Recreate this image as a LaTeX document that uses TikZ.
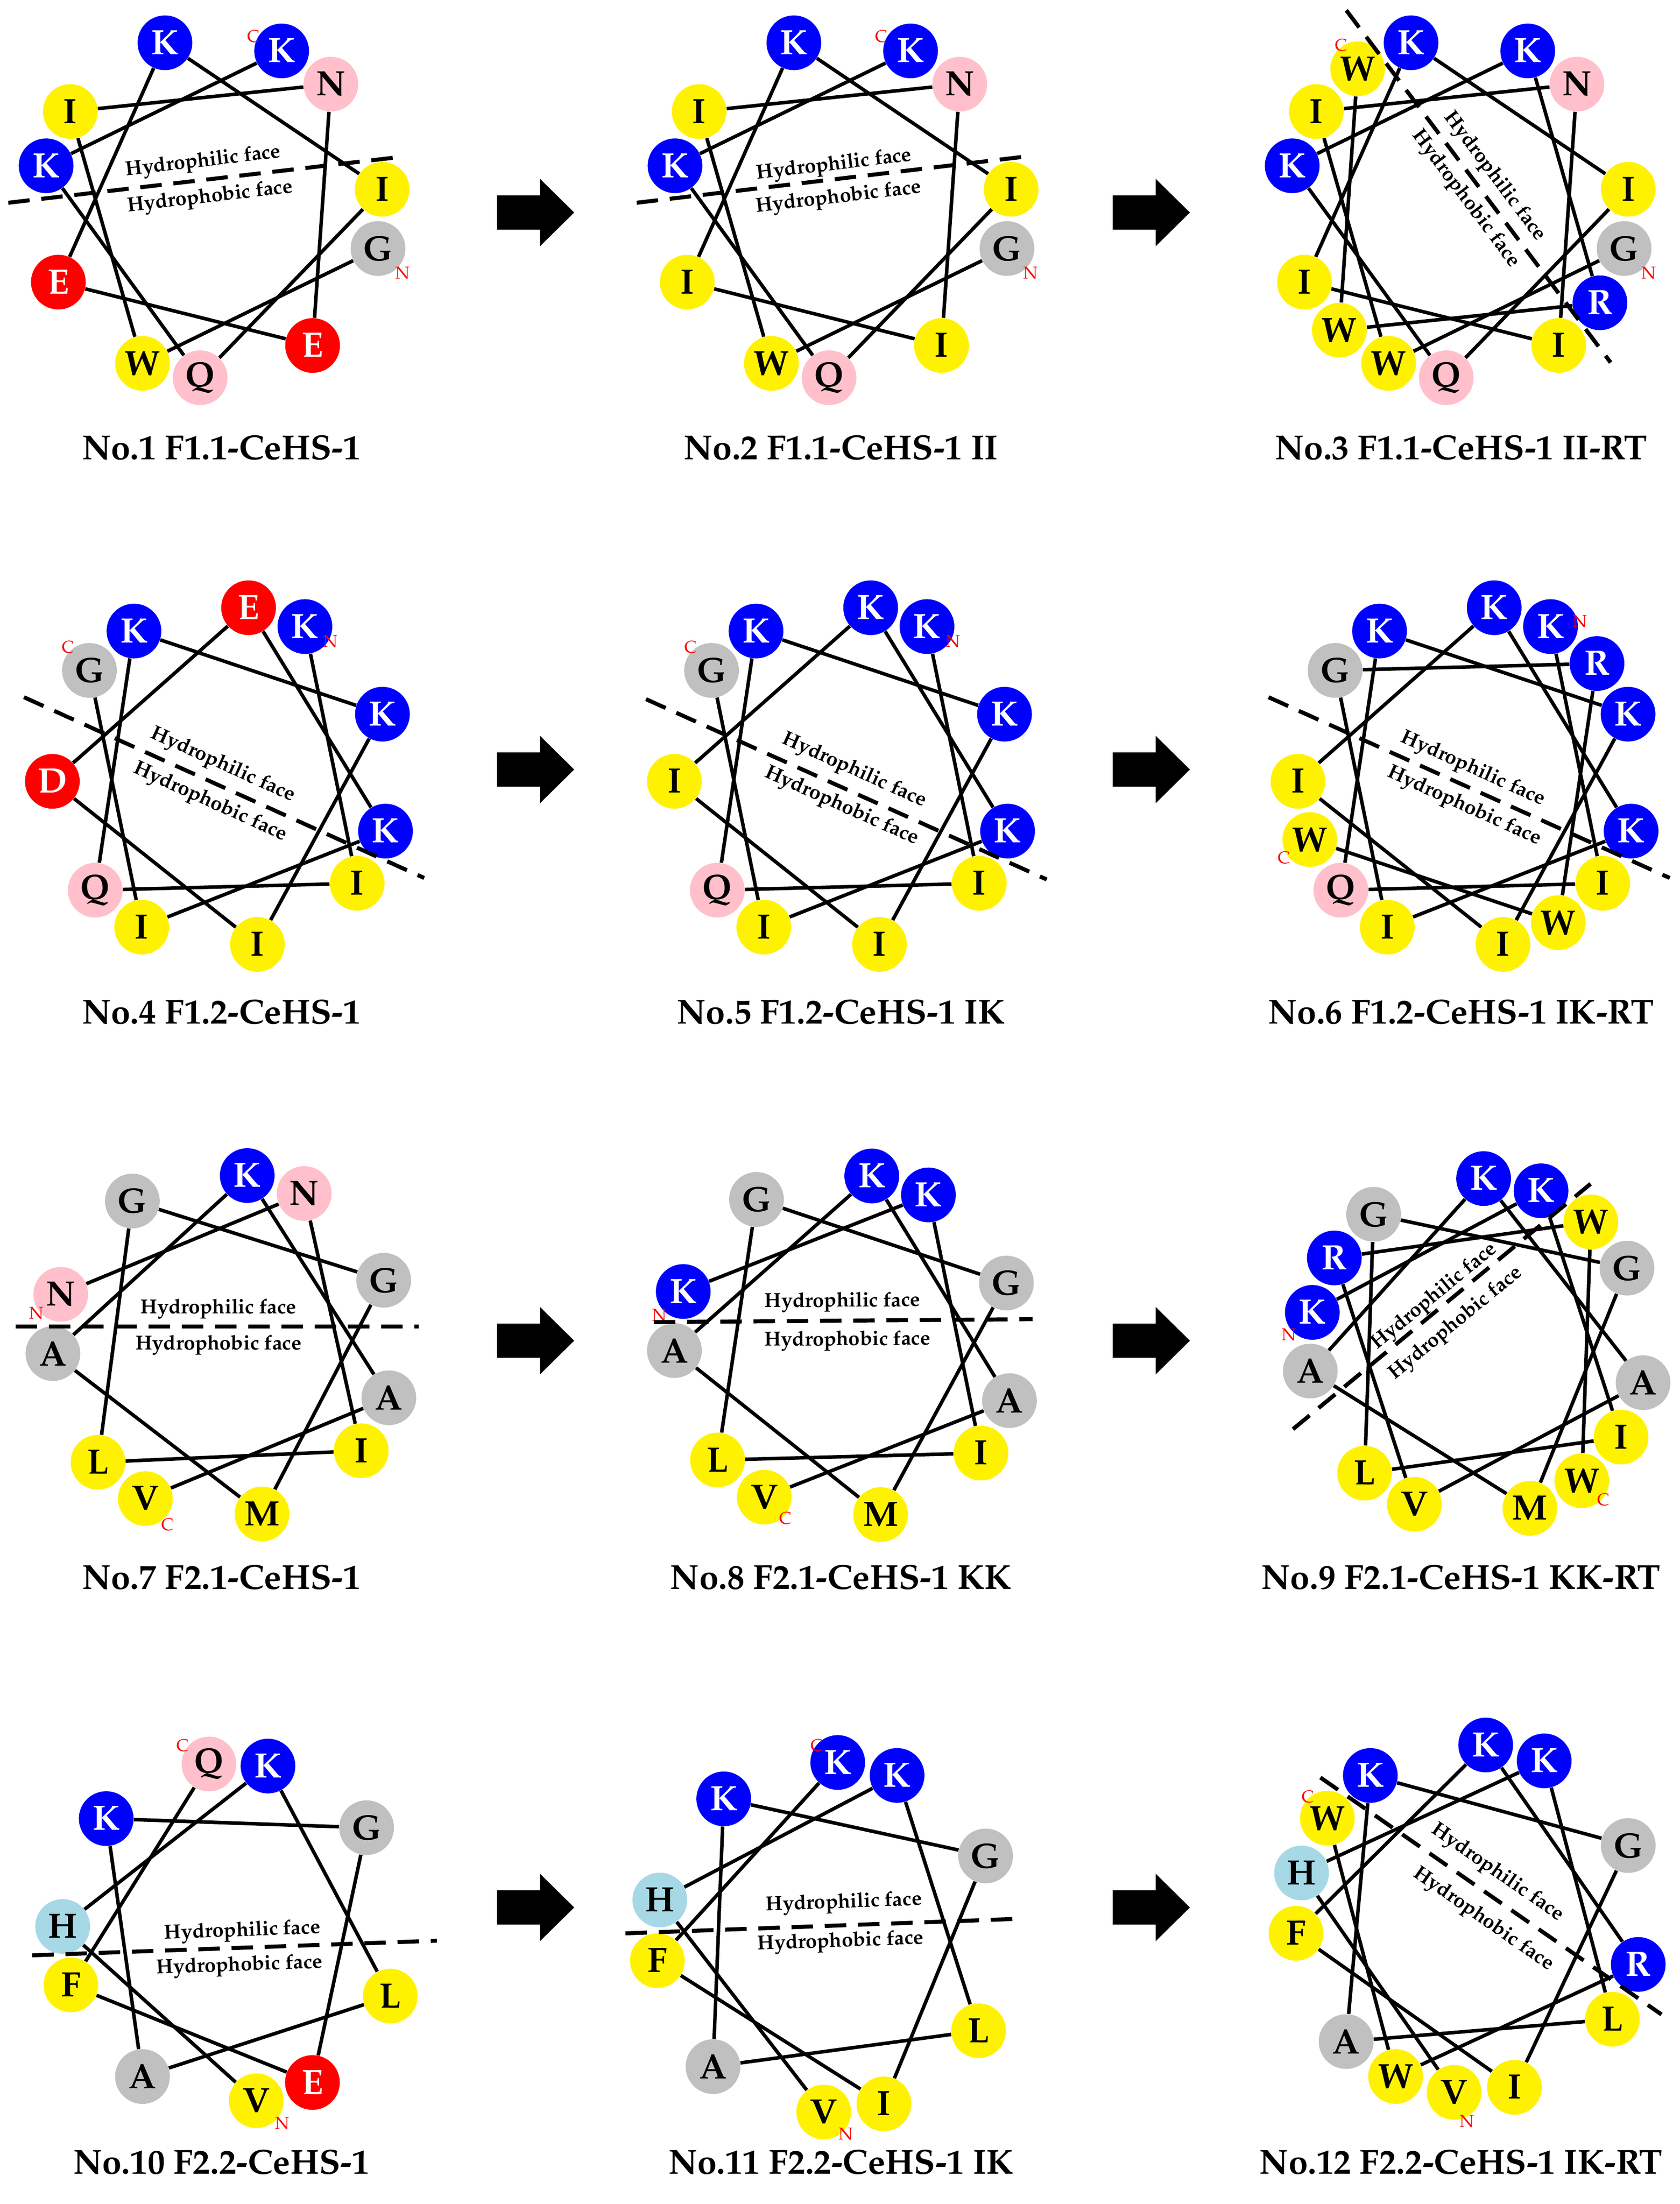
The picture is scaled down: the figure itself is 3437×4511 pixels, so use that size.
\documentclass[tikz,border=0pt]{standalone}
\usepackage[T1]{fontenc}
\renewcommand{\rmdefault}{ppl}
\usetikzlibrary{calc}
\pgfdeclarelayer{bg}
\pgfsetlayers{bg,main}
\definecolor{pinkres}{RGB}{255,192,203}
\definecolor{grayres}{RGB}{192,192,192}
\definecolor{hisres}{RGB}{166,216,230}
\newcommand{\drawwheel}[6]{%
  \foreach \aa/\st [count=\k from 0] in {#6} {
    \node[res,\st] (#1-\k) at ({#2+#4*cos(#5-100*\k)},{#3-#4*sin(#5-100*\k)}) {\aa};
  }%
}
\newcommand{\wheelconn}[2]{%
  \foreach \i in {0,...,#2} {
    \pgfmathtruncatemacro{\j}{\i+1}
    \draw[conn] (#1-\i) -- (#1-\j);
  }%
}
\newcommand{\blockarrow}[2]{%
  \fill[black] (#1,#2-35) -- (#1+88,#2-35) -- (#1+88,#2-69) -- (#1+158,#2) -- (#1+88,#2+69) -- (#1+88,#2+35) -- (#1,#2+35) -- cycle;
}
\begin{document}
\begin{tikzpicture}[x=0.1mm,y=-0.1mm,
  res/.style={circle, minimum size=11.2mm, inner sep=0pt, font=\fontsize{20.5}{24}\selectfont\bfseries},
  rB/.style={fill=blue, text=white},
  rY/.style={fill=yellow, text=black},
  rR/.style={fill=red, text=white},
  rP/.style={fill=pinkres, text=black},
  rG/.style={fill=grayres, text=black},
  rH/.style={fill=hisres, text=black},
  conn/.style={line width=0.72mm, black},
  dashln/.style={line width=0.82mm, black, dash pattern=on 4.4mm off 2.4mm},
  face/.style={font=\fontsize{11.8}{14}\selectfont\bfseries, inner sep=0pt},
  term/.style={text=red, font=\fontsize{10}{12}\selectfont, inner sep=0pt},
  capt/.style={font=\fontsize{20.2}{24}\selectfont\bfseries, inner sep=0pt}]
\useasboundingbox (0,0) rectangle (3437,4511);

% ---------- Row 1 ----------
\drawwheel{w1}{434}{424}{350}{-14}{G/rG,W/rY,I/rY,N/rP,E/rR,E/rR,K/rB,I/rY,Q/rP,K/rB,K/rB}
\drawwheel{w2}{1721}{424}{350}{-14}{G/rG,W/rY,I/rY,N/rP,I/rY,I/rY,K/rB,I/rY,Q/rP,K/rB,K/rB}
\drawwheel{w3}{2984}{424}{350}{-14}{G/rG,W/rY,I/rY,N/rP,I/rY,I/rY,K/rB,I/rY,Q/rP,K/rB,K/rB,R/rB,W/rY,W/rY}
% ---------- Row 2 ----------
\drawwheel{w4}{457}{1590}{350}{61.5}{K/rB,I/rY,Q/rP,K/rB,K/rB,I/rY,D/rR,E/rR,K/rB,I/rY,G/rG}
\drawwheel{w5}{1730}{1590}{350}{61.5}{K/rB,I/rY,Q/rP,K/rB,K/rB,I/rY,I/rY,K/rB,K/rB,I/rY,G/rG}
\drawwheel{w6}{3006}{1590}{350}{61.5}{K/rB,I/rY,Q/rP,K/rB,K/rB,I/rY,I/rY,K/rB,K/rB,I/rY,G/rG,R/rB,W/rY,W/rY}
% ---------- Row 3 ----------
\drawwheel{w7}{460}{2755}{352}{162.5}{N/rP,N/rP,I/rY,L/rY,G/rG,G/rG,M/rY,A/rG,K/rB,A/rG,V/rY}
\drawwheel{w8}{1732}{2755}{352}{161.5}{K/rB,K/rB,I/rY,L/rY,G/rG,G/rG,M/rY,A/rG,K/rB,A/rG,V/rY}
\drawwheel{w9}{3024}{2758}{346}{168}{K/rB,K/rB,I/rY,L/rY,G/rG,G/rG,M/rY,A/rG,K/rB,A/rG,V/rY,R/rB,W/rY,W/rY}
% ---------- Row 4 ----------
\drawwheel{w10}{476}{3955}{348}{-82}{V/rY,H/rH,K/rB,L/rY,A/rG,K/rB,G/rG,E/rR,F/rY,Q/rP}
\drawwheel{w11}{1700}{3965}{358}{-92.3}{V/rY,H/rH,K/rB,L/rY,A/rG,K/rB,G/rG,I/rY,F/rY,K/rB}
\drawwheel{w12}{3008}{3927}{357}{-95.2}{V/rY,H/rH,K/rB,L/rY,A/rG,K/rB,G/rG,I/rY,F/rY,K/rB,R/rB,W/rY,W/rY}

% ---------- background and connectors ----------
\begin{pgfonlayer}{bg}
\fill[white] (0,0) rectangle (3437,4511);
\wheelconn{w1}{9}
\wheelconn{w2}{9}
\wheelconn{w3}{12}
\wheelconn{w4}{9}
\wheelconn{w5}{9}
\wheelconn{w6}{12}
\wheelconn{w7}{9}
\wheelconn{w8}{9}
\wheelconn{w9}{12}
\wheelconn{w10}{8}
\wheelconn{w11}{8}
\wheelconn{w12}{11}
\end{pgfonlayer}

% ---------- N / C terminal labels ----------
\node[term] (w1-n) at ($(w1-0)+(50,50)$) {N};
\node[term] (w1-c) at ($(w1-10)+(-58,-30)$) {C};
\node[term] (w2-n) at ($(w2-0)+(48,50)$) {N};
\node[term] (w2-c) at ($(w2-10)+(-60,-30)$) {C};
\node[term] (w3-n) at ($(w3-0)+(50,50)$) {N};
\node[term] (w3-c) at ($(w3-13)+(-34,-48)$) {C};
\node[term] (w4-n) at ($(w4-0)+(52,30)$) {N};
\node[term] (w4-c) at ($(w4-10)+(-44,-47)$) {C};
\node[term] (w5-n) at ($(w5-0)+(53,30)$) {N};
\node[term] (w5-c) at ($(w5-10)+(-43,-47)$) {C};
\node[term] (w6-n) at ($(w6-0)+(60,-11)$) {N};
\node[term] (w6-c) at ($(w6-13)+(-53,37)$) {C};
\node[term] (w7-n) at ($(w7-0)+(-50,39)$) {N};
\node[term] (w7-c) at ($(w7-10)+(45,53)$) {C};
\node[term] (w8-n) at ($(w8-0)+(-49,48)$) {N};
\node[term] (w8-c) at ($(w8-10)+(43,43)$) {C};
\node[term] (w9-n) at ($(w9-0)+(-48,46)$) {N};
\node[term] (w9-c) at ($(w9-13)+(44,39)$) {C};
\node[term] (w10-n) at ($(w10-0)+(53,46)$) {N};
\node[term] (w10-c) at ($(w10-9)+(-54,-38)$) {C};
\node[term] (w11-n) at ($(w11-0)+(45,45)$) {N};
\node[term] (w11-c) at ($(w11-9)+(-43,-35)$) {C};
\node[term] (w12-n) at ($(w12-0)+(26,59)$) {N};
\node[term] (w12-c) at ($(w12-12)+(-40,-44)$) {C};

% ---------- dividing lines and face labels ----------
\coordinate (d1a) at (17,415);    \coordinate (d1b) at (804,323);
\coordinate (d2a) at (1303,415);  \coordinate (d2b) at (2094,321);
\coordinate (d3a) at (2755,21);   \coordinate (d3b) at (3296,742);
\coordinate (d4a) at (49,1427);   \coordinate (d4b) at (868,1797);
\coordinate (d5a) at (1322,1431); \coordinate (d5b) at (2142,1800);
\coordinate (d6a) at (2596,1427); \coordinate (d6b) at (3417,1797);
\coordinate (d7a) at (32,2715);   \coordinate (d7b) at (857,2715);
\coordinate (d8a) at (1338,2706); \coordinate (d8b) at (2113,2700);
\coordinate (d9a) at (2646,2925); \coordinate (d9b) at (3255,2423);
\coordinate (d10a) at (66,4002);  \coordinate (d10b) at (894,3972);
\coordinate (d11a) at (1280,3957);\coordinate (d11b) at (2091,3927);
\coordinate (d12a) at (2702,3638);\coordinate (d12b) at (3400,4123);
\foreach \n in {1,...,12} { \draw[dashln] (d\n a) -- (d\n b); }

\node[face,rotate=6.7]  (f1a) at (416,331) {Hydrophilic face};
\node[face,rotate=6.7]  (f1b) at (430,404) {Hydrophobic face};
\node[face,rotate=6.8]  (f2a) at (1707,338) {Hydrophilic face};
\node[face,rotate=6.8]  (f2b) at (1716,405) {Hydrophobic face};
\node[face,rotate=-53.1] (f3a) at (3058,361) {Hydrophilic face};
\node[face,rotate=-53.1] (f3b) at (2999,407) {Hydrophobic face};
\node[face,rotate=-24.3] (f4a) at (456,1566) {Hydrophilic face};
\node[face,rotate=-24.3] (f4b) at (430,1642) {Hydrophobic face};
\node[face,rotate=-24.2] (f5a) at (1748,1577) {Hydrophilic face};
\node[face,rotate=-24.2] (f5b) at (1722,1650) {Hydrophobic face};
\node[face,rotate=-24.3] (f6a) at (3014,1574) {Hydrophilic face};
\node[face,rotate=-24.3] (f6b) at (2996,1650) {Hydrophobic face};
\node[face] (f7a) at (447,2679) {Hydrophilic face};
\node[face] (f7b) at (447,2753) {Hydrophobic face};
\node[face,rotate=0.4] (f8a) at (1724,2665) {Hydrophilic face};
\node[face,rotate=0.4] (f8b) at (1734,2744) {Hydrophobic face};
\node[face,rotate=39.5] (f9a) at (2935,2654) {Hydrophilic face};
\node[face,rotate=39.5] (f9b) at (2979,2709) {Hydrophobic face};
\node[face,rotate=2.0] (f10a) at (496,3953) {Hydrophilic face};
\node[face,rotate=2.0] (f10b) at (490,4024) {Hydrophobic face};
\node[face,rotate=2.1] (f11a) at (1727,3895) {Hydrophilic face};
\node[face,rotate=2.1] (f11b) at (1720,3975) {Hydrophobic face};
\node[face,rotate=-34.8] (f12a) at (3064,3833) {Hydrophilic face};
\node[face,rotate=-34.8] (f12b) at (3035,3928) {Hydrophobic face};

% ---------- arrows ----------
\blockarrow{1017}{435}  \blockarrow{2277}{435}
\blockarrow{1017}{1575} \blockarrow{2277}{1575}
\blockarrow{1017}{2744} \blockarrow{2277}{2744}
\blockarrow{1017}{3904} \blockarrow{2277}{3904}

% ---------- captions ----------
\node[capt] (c1) at (453,916) {No.1 F1.1-CeHS-1};
\node[capt] (c2) at (1721,916) {No.2 F1.1-CeHS-1 II};
\node[capt] (c3) at (2990,916) {No.3 F1.1-CeHS-1 II-RT};
\node[capt] (c4) at (453,2071) {No.4 F1.2-CeHS-1};
\node[capt] (c5) at (1721,2071) {No.5 F1.2-CeHS-1 IK};
\node[capt] (c6) at (2990,2071) {No.6 F1.2-CeHS-1 IK-RT};
\node[capt] (c7) at (453,3228) {No.7 F2.1-CeHS-1};
\node[capt] (c8) at (1721,3228) {No.8 F2.1-CeHS-1 KK};
\node[capt] (c9) at (2990,3228) {No.9 F2.1-CeHS-1 KK-RT};
\node[capt] (c10) at (453,4425) {No.10 F2.2-CeHS-1};
\node[capt] (c11) at (1721,4425) {No.11 F2.2-CeHS-1 IK};
\node[capt] (c12) at (2990,4425) {No.12 F2.2-CeHS-1 IK-RT};
\end{tikzpicture}
\end{document}
